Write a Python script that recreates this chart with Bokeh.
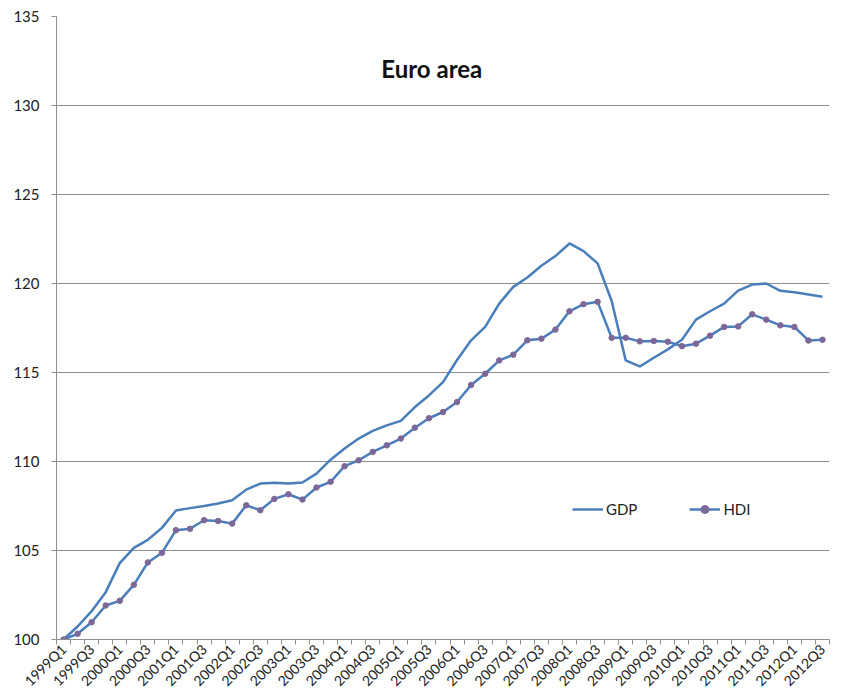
import math
from bokeh.plotting import figure
from bokeh.models import FixedTicker, Label, Range1d, Legend, LegendItem
from bokeh.embed import file_html
from bokeh.resources import INLINE

# ---- data ----
quarters = [f"{yr}Q{q}" for yr in range(1999, 2013) for q in range(1, 5)][:55]

gdp = [100.0, 100.73, 101.59, 102.66, 104.29, 105.15, 105.6, 106.27, 107.25, 107.38,
       107.5, 107.64, 107.82, 108.42, 108.76, 108.8, 108.76, 108.82, 109.32, 110.1,
       110.73, 111.29, 111.72, 112.03, 112.28, 113.06, 113.71, 114.46, 115.7, 116.81,
       117.56, 118.87, 119.81, 120.34, 121.0, 121.54, 122.25, 121.82, 121.13, 119.02,
       115.68, 115.34, 115.83, 116.3, 116.84, 117.97, 118.44, 118.87, 119.6, 119.94,
       120.0, 119.59, 119.51, 119.38, 119.25]

hdi = [100.0, 100.32, 100.97, 101.91, 102.17, 103.07, 104.33, 104.87, 106.14, 106.22,
       106.7, 106.66, 106.51, 107.54, 107.26, 107.9, 108.16, 107.86, 108.54, 108.86,
       109.74, 110.07, 110.54, 110.91, 111.29, 111.9, 112.43, 112.78, 113.34, 114.3,
       114.93, 115.68, 116.0, 116.81, 116.9, 117.41, 118.44, 118.84, 118.97, 116.95,
       116.95, 116.75, 116.77, 116.73, 116.48, 116.62, 117.07, 117.56, 117.59, 118.27,
       117.97, 117.65, 117.56, 116.8, 116.84]

y_ticks = [100, 105, 110, 115, 120, 125, 130, 135]
series_names = ["GDP", "HDI"]
chart_title = "Euro area"

# ---- styling ----
FONT = "Lato"
LINE_BLUE = "#4a7ebb"
MARKER = "#7d6799"
GRID = "#8f8f8f"
TEXT = "#222222"

xs = list(range(len(quarters)))

p = figure(width=843, height=698, output_backend="svg", toolbar_location=None,
           x_range=Range1d(-0.5, len(quarters) - 0.5), y_range=Range1d(100, 135),
           min_border_left=56, min_border_right=14, min_border_top=16, min_border_bottom=59)
p.outline_line_color = None
p.background_fill_color = "white"
p.border_fill_color = "white"

# grid
p.xgrid.visible = False
p.ygrid.grid_line_color = GRID
p.ygrid.grid_line_width = 1

# y axis
p.yaxis.ticker = FixedTicker(ticks=y_ticks, minor_ticks=[])
p.yaxis.axis_line_color = GRID
p.yaxis.major_tick_line_color = GRID
p.yaxis.major_tick_out = 5
p.yaxis.major_tick_in = 0
p.yaxis.minor_tick_line_color = None
p.yaxis.major_label_text_font = FONT
p.yaxis.major_label_text_font_size = "15px"
p.yaxis.major_label_text_color = TEXT
p.yaxis.major_label_standoff = 12

# x axis: labels every 2nd quarter, tick marks at category boundaries
label_pos = xs[::2]
p.xaxis.ticker = FixedTicker(ticks=label_pos,
                             minor_ticks=[i - 0.5 for i in range(len(quarters) + 1)])
p.xaxis.major_label_overrides = {i: quarters[i] for i in label_pos}
p.xaxis.major_label_orientation = math.pi / 4
p.xaxis.axis_line_color = GRID
p.xaxis.major_tick_line_color = None
p.xaxis.major_tick_out = 5
p.xaxis.major_tick_in = 0
p.xaxis.minor_tick_line_color = GRID
p.xaxis.minor_tick_out = 5
p.xaxis.minor_tick_in = 0
p.xaxis.major_label_text_font = FONT
p.xaxis.major_label_text_font_size = "14px"
p.xaxis.major_label_text_color = TEXT
p.xaxis.major_label_standoff = 2

# series
r_gdp = p.line(xs, gdp, line_color=LINE_BLUE, line_width=2.5)
r_hdi = p.line(xs, hdi, line_color=LINE_BLUE, line_width=2.5)
r_hdi_pts = p.scatter(xs, hdi, marker="circle", size=5.5, fill_color=MARKER,
                      line_color=MARKER)

legend = Legend(items=[LegendItem(label=series_names[0], renderers=[r_gdp]),
                       LegendItem(label=series_names[1], renderers=[r_hdi, r_hdi_pts])],
                location=(516, 120), orientation="horizontal",
                padding=0, margin=0, spacing=52, glyph_width=31, glyph_height=20,
                label_standoff=3, border_line_color=None, background_fill_alpha=0,
                label_text_font=FONT, label_text_font_size="15px",
                label_text_color=TEXT)
p.add_layout(legend)

p.add_layout(Label(x=26.2, y=132.1, text=chart_title, text_align="center",
                   text_baseline="middle", text_font=FONT, text_font_style="bold",
                   text_font_size="24px", text_color="#111111"))

open("out.html", "w").write(file_html(p, INLINE))
